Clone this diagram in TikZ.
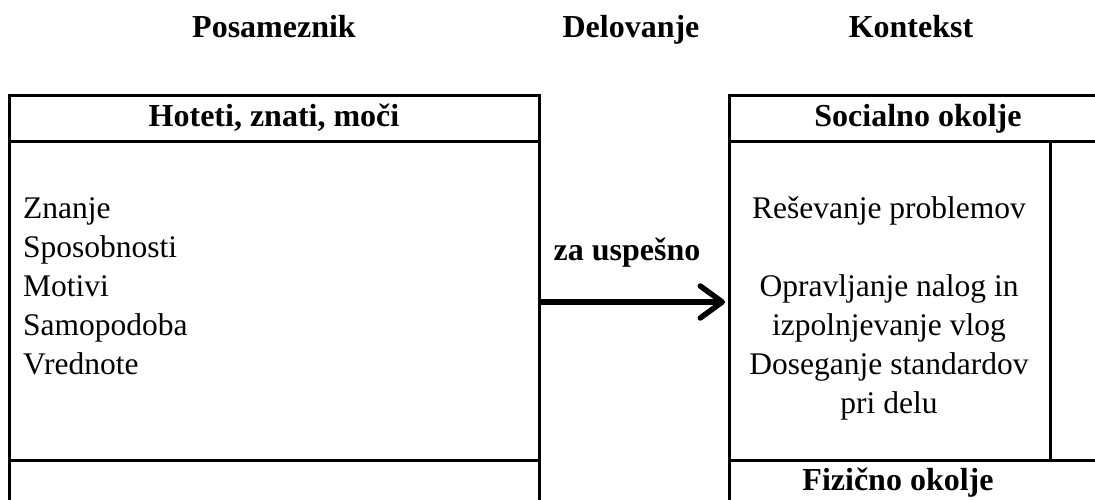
\documentclass[tikz,border=0pt]{standalone}
\usepackage{fontspec}
\setmainfont{Liberation Serif}
\usetikzlibrary{arrows.meta}
\tikzset{
  boxline/.style={line width=3pt, line cap=rect},
  head/.style={font=\fontsize{32}{38}\selectfont\bfseries, inner sep=0pt, anchor=base},
  body/.style={font=\fontsize{31.5}{39}\selectfont, inner sep=0pt},
  flow/.style={line width=5.5pt, -{Straight Barb[length=22pt,width=32pt,round]}}
}
\begin{document}
\begin{tikzpicture}[x=1pt,y=-1pt]
\useasboundingbox (0,0) rectangle (1095,500);
\clip (0,0) rectangle (1095,500);
% column headings
\node[head] (posam) at (274,38) {Posameznik};
\node[head] (delov) at (631,38) {Delovanje};
\node[head] (kont) at (911,38) {Kontekst};
% left box
\draw[boxline] (9,96) -- (539,96);
\draw[boxline] (9,142) -- (539,142);
\draw[boxline] (9,460) -- (539,460);
\draw[boxline] (9,96) -- (9,505);
\draw[boxline] (539,96) -- (539,505);
% right box
\draw[boxline] (729,96) -- (1100,96);
\draw[boxline] (729,142) -- (1100,142);
\draw[boxline] (729,460) -- (1100,460);
\draw[boxline] (729,96) -- (729,505);
\draw[boxline] (1050,142) -- (1050,460);
% left texts
\node[head] (hoteti) at (274,127) {Hoteti, znati, moči};
\node[body, anchor=base west] (znanje) at (23,218) {Znanje};
\node[body, anchor=base west] (spos) at (23,257) {Sposobnosti};
\node[body, anchor=base west] (motivi) at (23,296) {Motivi};
\node[body, anchor=base west] (samo) at (23,335) {Samopodoba};
\node[body, anchor=base west] (vred) at (23,374) {Vrednote};
% middle
\node[head] (za) at (627,260) {za uspešno};
\coordinate (from) at (540,302);
\coordinate (to) at (725,302);
\draw[flow] (from) -- (to);
% right texts
\node[head] (soc) at (918,127) {Socialno okolje};
\node[body, anchor=base] (res) at (889,218) {Reševanje problemov};
\node[body, anchor=base] (opr) at (889,296) {Opravljanje nalog in};
\node[body, anchor=base] (izp) at (889,335) {izpolnjevanje vlog};
\node[body, anchor=base] (dos) at (889,374) {Doseganje standardov};
\node[body, anchor=base] (pri) at (889,413) {pri delu};
\node[head] (fiz) at (898,490) {Fizično okolje};
\end{tikzpicture}
\end{document}
